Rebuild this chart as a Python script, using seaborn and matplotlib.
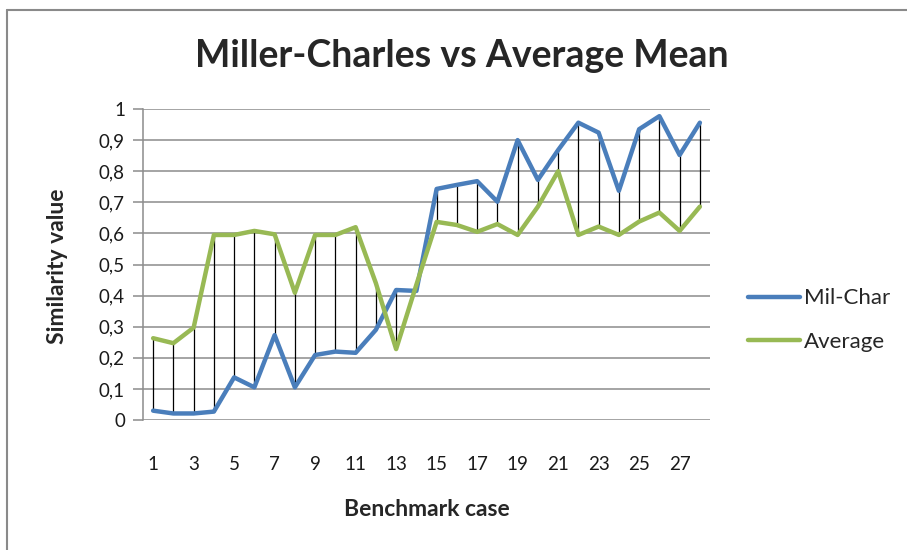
import matplotlib
matplotlib.use("Agg")
import matplotlib.pyplot as plt
from matplotlib.lines import Line2D
import seaborn as sns
import pandas as pd
import numpy as np

cases = list(range(1, 29))
mil_char = [0.03, 0.021, 0.021, 0.027, 0.137, 0.105, 0.273, 0.105, 0.209, 0.22,
            0.216, 0.29, 0.418, 0.415, 0.743, 0.756, 0.768, 0.702, 0.90, 0.772,
            0.868, 0.956, 0.924, 0.737, 0.935, 0.977, 0.852, 0.956]
average = [0.263, 0.247, 0.297, 0.595, 0.595, 0.608, 0.597, 0.409, 0.595, 0.595,
           0.62, 0.44, 0.228, 0.435, 0.637, 0.627, 0.605, 0.63, 0.595, 0.686,
           0.80, 0.595, 0.622, 0.595, 0.638, 0.667, 0.608, 0.686]
series_names = ["Mil-Char", "Average"]
y_ticks = [0, 0.1, 0.2, 0.3, 0.4, 0.5, 0.6, 0.7, 0.8, 0.9, 1.0]
y_tick_labels = ["0", "0,1", "0,2", "0,3", "0,4", "0,5", "0,6", "0,7", "0,8", "0,9", "1"]
x_tick_labels = [str(c) for c in cases if c % 2 == 1]

df = pd.DataFrame({
    "case": cases * 2,
    "value": mil_char + average,
    "series": [series_names[0]] * len(cases) + [series_names[1]] * len(cases),
})

sns.set_style("white")
plt.rcParams["font.family"] = ["Lato", "DejaVu Sans"]

fig = plt.figure(figsize=(9.07, 5.5), dpi=100)
ax = fig.add_axes([143 / 907, 1 - 420 / 550, (710 - 143) / 907, (420 - 109) / 550])

grid_c = "#8c8c8c"
for yv in y_ticks:
    ax.axhline(yv, color=grid_c, lw=1.1, zorder=0)

# high-low lines
ax.vlines(cases, np.minimum(mil_char, average), np.maximum(mil_char, average),
          color="black", lw=0.9, zorder=1)

palette = {"Mil-Char": "#4A7EBB", "Average": "#98B954"}
sns.lineplot(data=df, x="case", y="value", hue="series", palette=palette,
             lw=3.2, ax=ax, legend=False, zorder=2)

ax.set_xlim(0.5, 28.5)
ax.set_ylim(0, 1)
for s in ["top", "right", "bottom"]:
    ax.spines[s].set_visible(False)
ax.spines["left"].set_color(grid_c)
ax.spines["left"].set_linewidth(1.1)

ax.set_yticks(y_ticks)
ax.set_yticklabels(y_tick_labels, fontsize=13.5, color="#1a1a1a")
ax.tick_params(axis="y", length=7, width=1.1, color=grid_c, pad=6, left=True)
ax.set_xticks([c for c in cases if c % 2 == 1])
ax.set_xticklabels(x_tick_labels, fontsize=13.5, color="#1a1a1a")
ax.tick_params(axis="x", length=0, pad=26)
ax.set_xlabel("")
ax.set_ylabel("")

fig.text(58 / 907, 1 - 266 / 550, "Similarity value", rotation=90, fontsize=16.5,
         fontweight="bold", ha="center", va="center")
fig.text(427 / 907, 1 - 510 / 550, "Benchmark case", fontsize=16.5,
         fontweight="bold", ha="center", va="center")
fig.text(462 / 907, 1 - 56 / 550, "Miller-Charles vs Average Mean", fontsize=27,
         fontweight="bold", ha="center", va="center")

# legend
handles = [Line2D([0], [0], color=palette[n], lw=3.2) for n in series_names]
fig.legend(handles, series_names, loc="center left",
           bbox_to_anchor=(728 / 907, 1 - 320 / 550), frameon=False,
           fontsize=16, handlelength=2.35, handletextpad=0.15, labelspacing=1.05)

# outer border (left and top edges visible)
border_c = "#8a8a8a"
fig.add_artist(Line2D([7 / 907, 7 / 907], [0, 1 - 10 / 550], color=border_c, lw=1.5,
                      transform=fig.transFigure))
fig.add_artist(Line2D([7 / 907, 1], [1 - 10 / 550, 1 - 10 / 550], color=border_c, lw=1.5,
                      transform=fig.transFigure))

fig.savefig("out.png", dpi=100, facecolor="white")
